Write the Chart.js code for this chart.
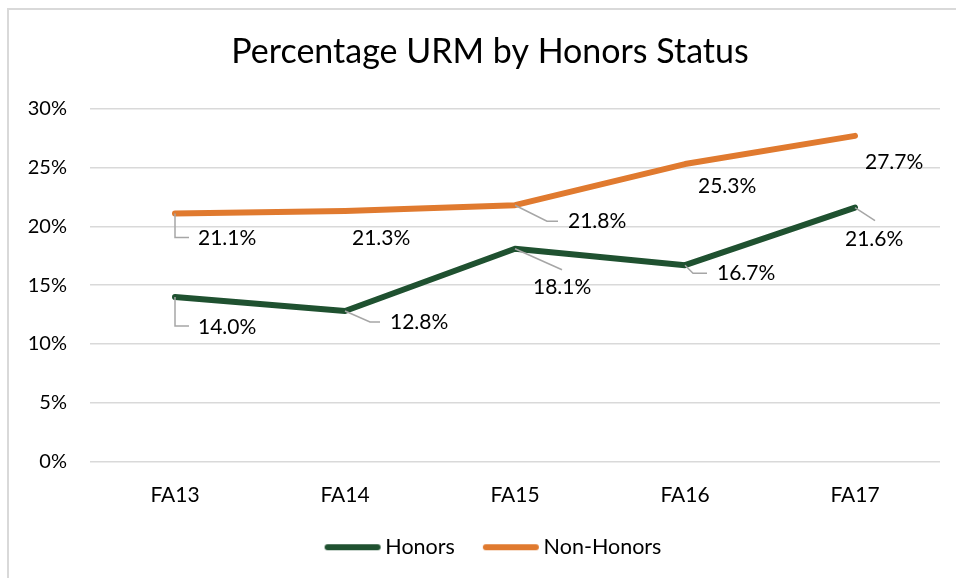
<!DOCTYPE html>
<html>
<head>
<meta charset="utf-8">
<script src="https://cdn.jsdelivr.net/npm/chart.js@4"></script>
<style>
  html, body { margin: 0; padding: 0; background: #fff; }
  canvas { display: block; }
</style>
</head>
<body>
<canvas id="c" width="956" height="578"></canvas>
<script>
// ---- data ----
const categories = ['FA13', 'FA14', 'FA15', 'FA16', 'FA17'];
const honors = [14.0, 12.8, 18.1, 16.7, 21.6];
const nonHonors = [21.1, 21.3, 21.8, 25.3, 27.7];
const seriesNames = ['Honors', 'Non-Honors'];
const yTicks = [0, 5, 10, 15, 20, 25, 30];
const titleText = 'Percentage URM by Honors Status';

const COLORS = ['#1F5130', '#E07A2F'];
const FONT = 'Lato';

// legend line images
function lineImage(color) {
  const c = document.createElement('canvas');
  c.width = 58; c.height = 8;
  const g = c.getContext('2d');
  g.strokeStyle = color; g.lineWidth = 6; g.lineCap = 'round';
  g.beginPath(); g.moveTo(4, 4); g.lineTo(54, 4); g.stroke();
  return c;
}
const legendImgs = COLORS.map(lineImage);

// data label placement (offsets relative to each point, in px)
const labelLayout = [
  [ // Honors
    {dx: 23, dy: 30, leader: [[0,0],[0,29],[14,29]]},
    {dx: 45, dy: 11, leader: [[0,0],[25,11],[35,11]]},
    {dx: 18, dy: 39, leader: [[0,0],[47,21]]},
    {dx: 32, dy: 8,  leader: [[0,0],[8,8],[22,8]]},
    {dx: -10, dy: 32, leader: [[0,0],[20,13]]}
  ],
  [ // Non-Honors
    {dx: 23, dy: 25, leader: [[0,0],[0,24],[14,24]]},
    {dx: 7,  dy: 27, leader: null},
    {dx: 53, dy: 16, leader: [[0,0],[32,16],[43,16]]},
    {dx: 13, dy: 22, leader: null},
    {dx: 10, dy: 26, leader: null}
  ]
];

const bgPlugin = {
  id: 'bg',
  beforeDraw(chart) {
    const ctx = chart.ctx;
    ctx.save();
    ctx.fillStyle = '#fff';
    ctx.fillRect(0, 0, chart.width, chart.height);
    ctx.strokeStyle = '#d9d9d9';
    ctx.lineWidth = 2;
    ctx.beginPath();
    ctx.moveTo(8, chart.height);
    ctx.lineTo(8, 9);
    ctx.lineTo(chart.width, 9);
    ctx.stroke();
    ctx.restore();
  }
};

// centre title and legend on the chart body rather than the full canvas
const centerPlugin = {
  id: 'centerBlocks',
  afterLayout(chart) {
    if (chart.titleBlock) { chart.titleBlock.left = 40; }
    if (chart.legend) { chart.legend.left = 52; }
  }
};

const labelPlugin = {
  id: 'dataLabels',
  afterDatasetsDraw(chart) {
    const ctx = chart.ctx;
    ctx.save();
    chart.data.datasets.forEach((ds, di) => {
      const meta = chart.getDatasetMeta(di);
      meta.data.forEach((pt, i) => {
        const lay = labelLayout[di][i];
        if (lay.leader) {
          ctx.strokeStyle = '#a6a6a6';
          ctx.lineWidth = 1.5;
          ctx.beginPath();
          lay.leader.forEach((p, k) => {
            const x = pt.x + p[0], y = pt.y + p[1];
            if (k === 0) ctx.moveTo(x, y); else ctx.lineTo(x, y);
          });
          ctx.stroke();
        }
        ctx.fillStyle = '#000';
        ctx.font = '21px ' + FONT;
        ctx.textAlign = 'left';
        ctx.textBaseline = 'middle';
        ctx.fillText(ds.data[i].toFixed(1) + '%', pt.x + lay.dx, pt.y + lay.dy);
      });
    });
    ctx.restore();
  }
};

new Chart(document.getElementById('c'), {
  type: 'line',
  data: {
    labels: categories,
    datasets: [
      {label: seriesNames[0], data: honors, borderColor: COLORS[0], backgroundColor: COLORS[0]},
      {label: seriesNames[1], data: nonHonors, borderColor: COLORS[1], backgroundColor: COLORS[1]}
    ]
  },
  options: {
    responsive: false,
    animation: false,
    events: [],
    elements: {
      line: {borderWidth: 6, borderCapStyle: 'round', borderJoinStyle: 'round', tension: 0},
      point: {radius: 0, hoverRadius: 0}
    },
    layout: {padding: {left: 20, right: 16, top: 0, bottom: 10}},
    plugins: {
      title: {
        display: true,
        text: titleText,
        color: '#000',
        font: {family: FONT, size: 34, weight: 'normal'},
        padding: {top: 32, bottom: 36}
      },
      legend: {
        position: 'bottom',
        labels: {
          usePointStyle: true,
          pointStyleWidth: 44,
          padding: 34,
          color: '#000',
          font: {family: FONT, size: 21.5},
          generateLabels(chart) {
            return chart.data.datasets.map((ds, i) => ({
              text: ds.label,
              pointStyle: legendImgs[i],
              fillStyle: 'transparent',
              strokeStyle: 'transparent',
              lineWidth: 0,
              datasetIndex: i,
              fontColor: '#000'
            }));
          }
        }
      },
      tooltip: {enabled: false}
    },
    scales: {
      x: {
        offset: true,
        grid: {display: false},
        border: {display: false},
        ticks: {color: '#000', font: {family: FONT, size: 21}, padding: 13, maxRotation: 0},
        afterFit(s) { s.height = 41; s._computeLabelArea = () => undefined; }
      },
      y: {
        min: yTicks[0],
        max: yTicks[yTicks.length - 1],
        afterBuildTicks(s) { s.ticks = yTicks.map(v => ({value: v})); },
        grid: {color: '#d9d9d9', lineWidth: 1.5, drawTicks: false},
        border: {display: false},
        ticks: {
          color: '#000',
          font: {family: FONT, size: 20},
          padding: 23,
          callback: v => v + '%'
        },
        afterFit(s) { s.width = 70; }
      }
    }
  },
  plugins: [bgPlugin, centerPlugin, labelPlugin]
});
</script>
</body>
</html>
